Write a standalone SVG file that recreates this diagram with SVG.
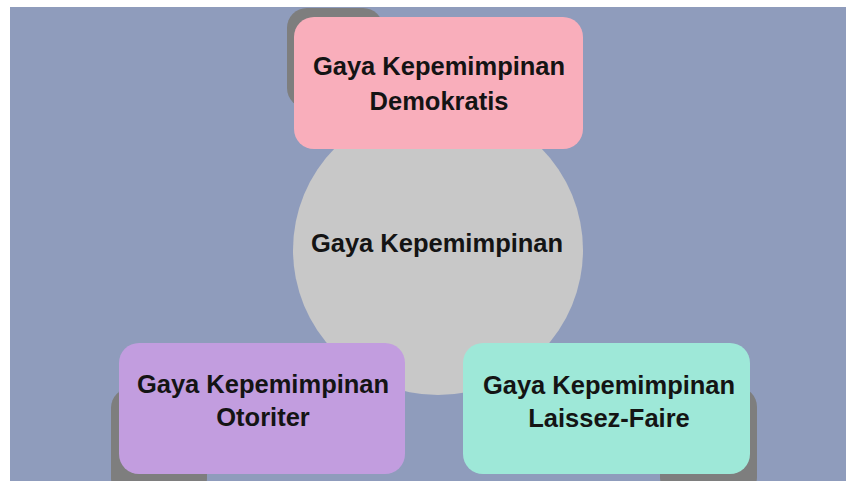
<svg xmlns="http://www.w3.org/2000/svg" width="846" height="481" viewBox="0 0 846 481">
  <style>
    .lbl { font-family: "Liberation Sans", Arial, sans-serif; font-weight: bold; font-size: 25.5px; fill: #141414; text-anchor: middle; }
    .shadow { fill: #7e7e7e; }
  </style>
  <rect x="0" y="0" width="846" height="481" fill="#ffffff"/>
  <rect x="10" y="7" width="836" height="474" fill="#8f9cbc"/>
  <g id="connectors"></g>
  <g id="center">
    <circle cx="438" cy="250" r="145" fill="#c8c8c8"/>
    <text class="lbl" x="437" y="252">Gaya Kepemimpinan</text>
  </g>
  <g id="demokratis">
    <rect class="shadow" x="287" y="8" width="96" height="100" rx="20"/>
    <rect x="294" y="17" width="289" height="132" rx="20" fill="#f9aebb"/>
    <text class="lbl" x="439" y="75">Gaya Kepemimpinan</text>
    <text class="lbl" x="439" y="110">Demokratis</text>
  </g>
  <g id="otoriter">
    <rect class="shadow" x="111" y="388" width="96" height="110" rx="20"/>
    <rect x="119" y="343" width="286" height="131" rx="20" fill="#c29ddf"/>
    <text class="lbl" x="263" y="393">Gaya Kepemimpinan</text>
    <text class="lbl" x="263" y="426">Otoriter</text>
  </g>
  <g id="laissez-faire">
    <rect class="shadow" x="660" y="387" width="97" height="110" rx="20"/>
    <rect x="463" y="343" width="287" height="131" rx="20" fill="#9ee8d8"/>
    <text class="lbl" x="609" y="394">Gaya Kepemimpinan</text>
    <text class="lbl" x="609" y="427">Laissez-Faire</text>
  </g>
</svg>
